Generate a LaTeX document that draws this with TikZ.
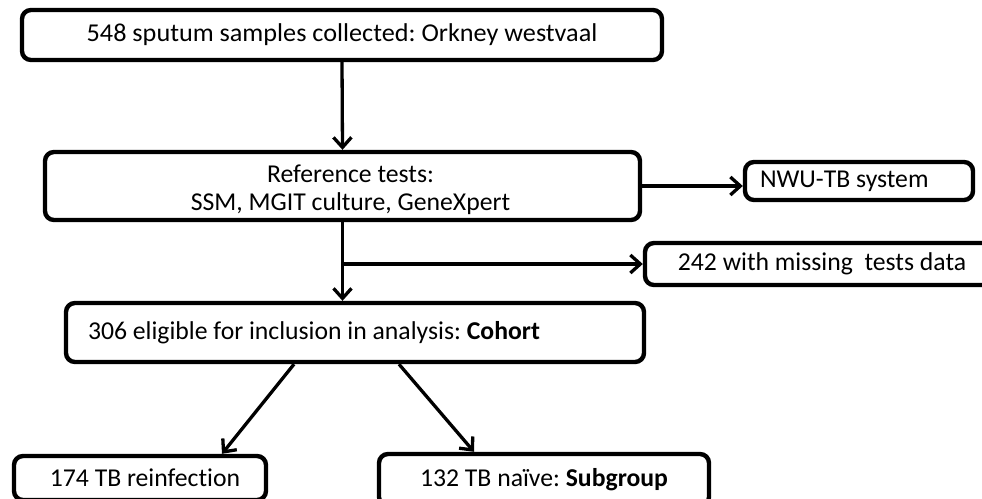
\documentclass[tikz,border=0pt]{standalone}
\usepackage{fontspec}
\setmainfont{Carlito}[Ligatures=NoCommon]
\usetikzlibrary{arrows.meta}
\frenchspacing
\begin{document}
\begin{tikzpicture}[x=1pt,y=-1pt,
  txt/.style={font=\fontsize{25.7pt}{28pt}\selectfont\frenchspacing, text=black},
  box/.style={txt, draw=black, line width=4.4pt, rounded corners=9pt, inner sep=0pt},
  conn/.style={draw=black, line width=3.3pt, -{Straight Barb[length=10pt,width=18pt,line width=3.3pt]}}
]
\useasboundingbox (0,0) rectangle (982,498);
\fill[white] (0,0) rectangle (982,498);
\clip (0,0) rectangle (982,498);

\node[box, minimum width=640pt, minimum height=50pt] (b1) at (342,35) {\scalebox{1.02}[1]{548 sputum samples collected: Orkney westvaal}};

\node[box, minimum width=595pt, minimum height=68pt,
  label={[txt, align=center, xshift=8pt, yshift=-4pt]center:Reference tests:\\SSM, MGIT culture, GeneXpert}] (b2) at (342.5,186) {};

\node[box, minimum width=228pt, minimum height=38pt, inner xsep=15pt] (nwu) at (859,181) {\makebox[198pt][l]{NWU-TB system}};

\node[box, minimum width=354pt, minimum height=42pt] (miss) at (822,264) {242 with missing\ \ tests data};

\node[box, minimum height=59pt, inner xsep=22pt] (b3) at (355,332.5) {\makebox[534pt][l]{306 eligible for inclusion in analysis: \textbf{Cohort}}};

\node[box, minimum width=252pt, minimum height=44pt] (b174) at (140,478) {\hspace*{10pt}174 TB reinfection};

\node[box, minimum width=330pt, minimum height=52pt] (b132) at (544,480) {132 TB naïve: \textbf{Subgroup}};

\draw[conn] (b1.south) -- (b2.north);
\draw[conn] (b2.east) -- (b2.east -| nwu.west);
\draw[conn] (b2.south) -- (b2.south |- b3.north);
\coordinate (br) at (b2.south |- miss.west);
\draw[conn] (br) -- (miss.west);
\draw[conn] ([xshift=-61pt]b3.south) -- ([xshift=82pt]b174.north);
\draw[conn] ([xshift=44pt]b3.south) -- ([xshift=-70pt]b132.north);
\end{tikzpicture}
\end{document}
